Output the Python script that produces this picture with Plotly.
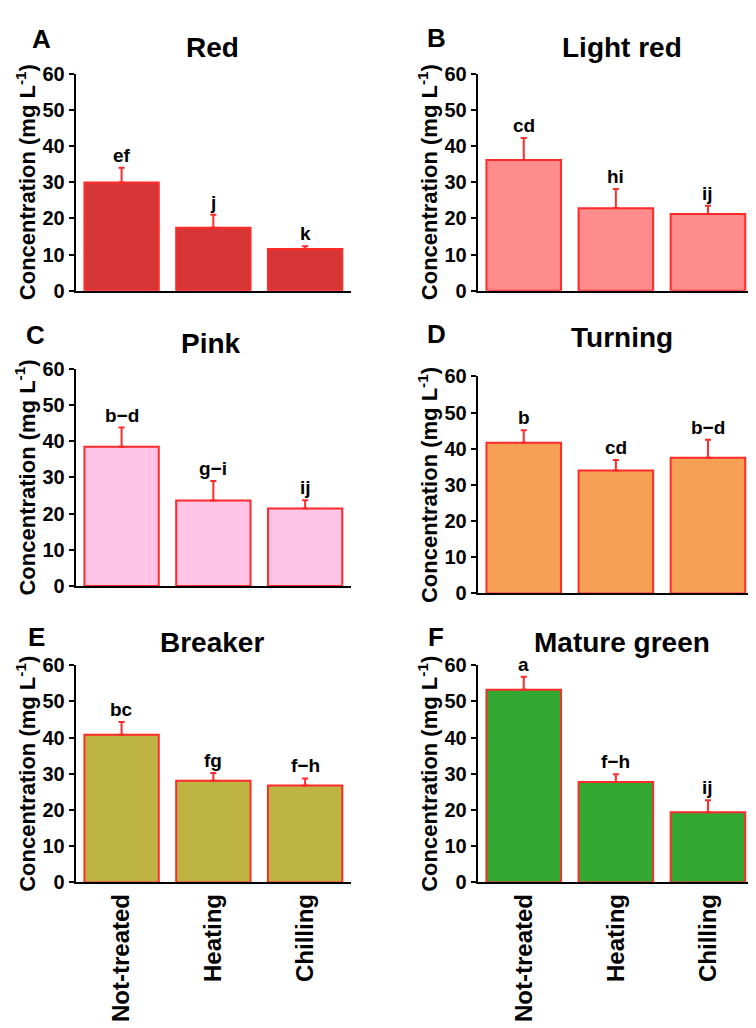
import plotly.graph_objects as go

# treatments on the x axis
treatments = ["Not-treated", "Heating", "Chilling"]

# ripening stages (panel order A-F)
stages = ["Red", "Light red", "Pink", "Turning", "Breaker", "Mature green"]
panel_letters = ["A", "B", "C", "D", "E", "F"]

# mean concentration (mg L-1)
red_vals = [29.9, 17.4, 11.5]
light_red_vals = [36.1, 22.8, 21.2]
pink_vals = [38.5, 23.6, 21.4]
turning_vals = [41.7, 34.0, 37.5]
breaker_vals = [40.8, 28.1, 26.8]
mature_green_vals = [53.2, 27.7, 19.4]

# standard deviation (upper bar only)
red_err = [4.1, 3.6, 0.8]
light_red_err = [6.1, 5.3, 2.3]
pink_err = [5.3, 5.4, 2.3]
turning_err = [3.4, 2.9, 5.0]
breaker_err = [3.5, 2.1, 1.9]
mature_green_err = [3.6, 2.2, 3.3]

# significance letters
red_sig = ["ef", "j", "k"]
light_red_sig = ["cd", "hi", "ij"]
pink_sig = ["b\u2212d", "g\u2212i", "ij"]
turning_sig = ["b", "cd", "b\u2212d"]
breaker_sig = ["bc", "fg", "f\u2212h"]
mature_green_sig = ["a", "f\u2212h", "ij"]

all_vals = [red_vals, light_red_vals, pink_vals, turning_vals, breaker_vals, mature_green_vals]
all_err = [red_err, light_red_err, pink_err, turning_err, breaker_err, mature_green_err]
all_sig = [red_sig, light_red_sig, pink_sig, turning_sig, breaker_sig, mature_green_sig]
fills = ["#d63636", "#ff8c8c", "#ffc3e6", "#f5a055", "#bdb443", "#33a933"]
edge = "#ff2a2a"

W, H = 756, 1028
FONT = "Liberation Sans, Arial, sans-serif"

# plot boxes in pixels: (left, right, top, bottom)
boxes = [
    (67.7, 343, 55.7, 277.7),
    (469.7, 746, 55.7, 277.7),
    (67.7, 343, 357.7, 579.3),
    (469.7, 746, 365.3, 587),
    (67.7, 343, 660.3, 882.3),
    (469.7, 746, 660.3, 882.3),
]
# stage title centres and panel letter centres in pixels
title_pos = [(204, 29), (614, 29), (203, 332), (614, 325), (204, 637), (614, 637)]
letter_pos = [(33, 20), (428, 19), (27, 323), (428, 322), (28, 632), (428, 632)]

fig = go.Figure()
annotations = []

for i in range(6):
    n = "" if i == 0 else str(i + 1)
    l, r, t, b = boxes[i]
    fig.add_trace(go.Bar(
        x=treatments, y=all_vals[i],
        xaxis="x" + n, yaxis="y" + n,
        marker=dict(color=fills[i], line=dict(color=edge, width=2)),
        error_y=dict(type="data", symmetric=False, array=all_err[i],
                     arrayminus=[0, 0, 0], color=edge, thickness=2, width=3),
        showlegend=False,
    ))
    fig.layout["xaxis" + n] = dict(
        domain=[l / W, r / W], anchor="y" + n,
        showline=True, linecolor="black", linewidth=2,
        ticks="", showticklabels=(i >= 4), tickangle=-90,
        tickfont=dict(family=FONT, size=24, color="black", weight="bold"),
        showgrid=False, zeroline=False,
    )
    fig.layout["yaxis" + n] = dict(
        domain=[1 - b / H, 1 - t / H], anchor="x" + n,
        range=[0, 60], dtick=10,
        showline=True, linecolor="black", linewidth=2,
        ticks="outside", ticklen=5, tickwidth=2, tickcolor="black",
        tickfont=dict(family=FONT, size=20, color="black", weight="bold"),
        title=dict(text="Concentration (mg L<sup>-1</sup>)", standoff=1,
                   font=dict(family=FONT, size=22, color="black", weight="bold")),
        showgrid=False, zeroline=False,
    )
    for j in range(3):
        annotations.append(dict(
            x=treatments[j], y=all_vals[i][j] + all_err[i][j],
            xref="x" + n, yref="y" + n, yanchor="bottom",
            text=all_sig[i][j], showarrow=False,
            font=dict(family=FONT, size=19, color="black", weight="bold"),
        ))
    tx, ty = title_pos[i]
    annotations.append(dict(
        x=tx / W, y=1 - ty / H, xref="paper", yref="paper",
        text=stages[i], showarrow=False, xanchor="center", yanchor="middle",
        font=dict(family=FONT, size=28, color="black", weight="bold"),
    ))
    lx, ly = letter_pos[i]
    annotations.append(dict(
        x=lx / W, y=1 - ly / H, xref="paper", yref="paper",
        text=panel_letters[i], showarrow=False, xanchor="center", yanchor="middle",
        font=dict(family=FONT, size=26, color="black", weight="bold"),
    ))

fig.update_layout(
    width=W, height=H,
    margin=dict(l=0, r=0, t=0, b=0),
    paper_bgcolor="white", plot_bgcolor="white",
    bargap=0.19,
    annotations=annotations,
)

fig.write_html("out.html")
